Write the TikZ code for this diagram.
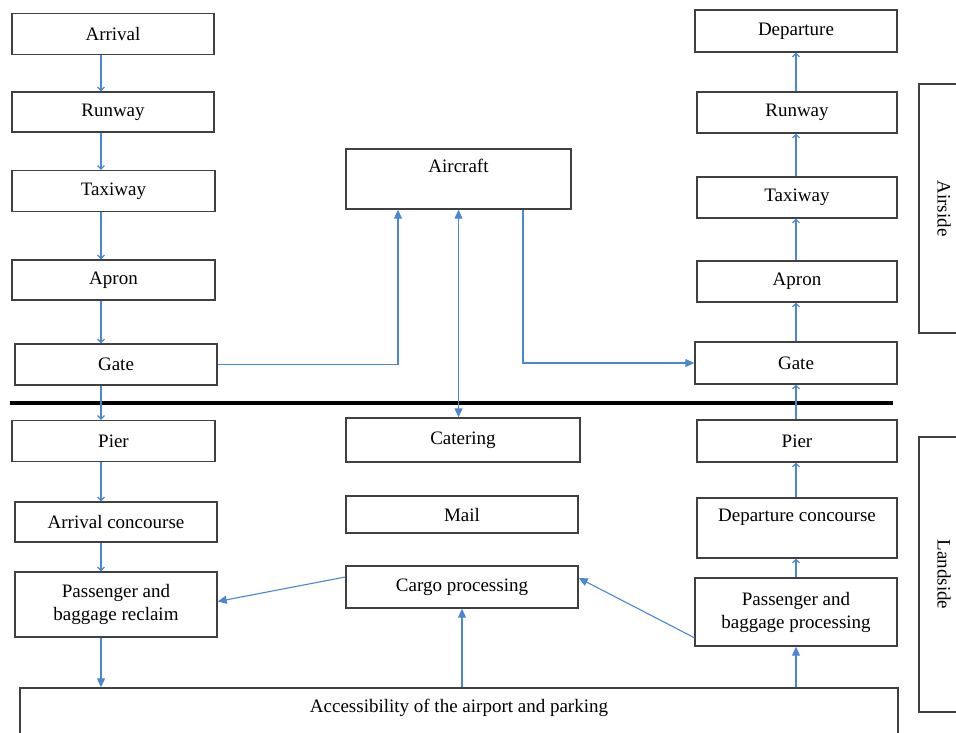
\documentclass[tikz,border=0pt]{standalone}
\usepackage{fontspec}
\setmainfont{Liberation Serif}
\usetikzlibrary{arrows.meta}
\definecolor{flowblue}{RGB}{74,134,212}
\tikzset{
	box/.style={draw=black!75, line width=1.4pt, minimum width=202, minimum height=41, inner sep=0pt, align=center, font=\fontsize{19}{23}\selectfont},
	sidebox/.style={box, rotate=-90, minimum height=50},
	flowsmall/.style={draw=flowblue, line width=1.1pt, -{Straight Barb[length=3.5pt,width=7pt]}},
	flowbig/.style={draw=flowblue, line width=1.1pt, -{Triangle[length=9pt,width=8pt]}},
}

\begin{document}
\begin{tikzpicture}[x=1pt,y=-1pt]
			%%%%% START %%%%%
			\useasboundingbox (0,0) rectangle (956,733);
			
			% arrival side
			\node[box] (arrivalL) at (113,34) {Arrival};
			\node[box, minimum height=40] (runwayL) at (113,112) {Runway};
			\node[box, minimum width=203] (taxiwayL) at (113.5,191) {Taxiway};
			\node[box, minimum width=203, minimum height=40] (apronL) at (113.5,280) {Apron};
			\node[box] (gateL) at (116,364.5) {Gate};
			\node[box, minimum width=203] (pierL) at (113.5,441) {Pier};
			\node[box, minimum height=40] (concL) at (116,522) {Arrival concourse};
			\node[box, minimum height=65] (reclaim) at (116,604.5) {Passenger and\\baggage reclaim};
			
			% middle
			\node[box, minimum width=225, minimum height=60, label={[anchor=north, yshift=-7pt, font=\fontsize{19}{23}\selectfont]north:Aircraft}] (aircraft) at (458.5,179) {};
			\node[box, minimum width=234, minimum height=44] (catering) at (463,440) {Catering};
			\node[box, minimum width=232, minimum height=37] (mail) at (462,514.5) {Mail};
			\node[box, minimum width=232, minimum height=42] (cargo) at (462,587) {Cargo processing};
			\node[box, minimum width=878, minimum height=50, label={[anchor=north, yshift=-8pt, font=\fontsize{19}{23}\selectfont]north:Accessibility of the airport and parking}] (access) at (459,713) {};
			
			% departure side
			\node[box, minimum height=42] (departure) at (796,31) {Departure};
			\node[box, minimum width=200] (runwayR) at (797,112.5) {Runway};
			\node[box, minimum width=200] (taxiwayR) at (797,197.5) {Taxiway};
			\node[box, minimum width=200] (apronR) at (797,281.5) {Apron};
			\node[box, minimum height=42] (gateR) at (796,363) {Gate};
			\node[box, minimum width=200, minimum height=42] (pierR) at (797,441) {Pier};
			\node[box, minimum width=200, minimum height=60, label={[anchor=north, yshift=-8pt, font=\fontsize{19}{23}\selectfont]north:Departure concourse}] (concR) at (797,528) {};
			\node[box, minimum height=68] (process) at (796,612) {Passenger and\\baggage processing};
			
			\node[sidebox, minimum width=249] (airside) at (944,208.5) {Airside};
			\node[sidebox, minimum width=275] (landside) at (944,574.5) {Landside};
			
			\draw[line width=4pt] (10,403) -- (893,403);
			
			% arrows
			\coordinate (lx) at (101,0);
			\coordinate (ax1) at (398,0);
			\coordinate (ax3) at (523,0);
			\coordinate (rx) at (796,0);
			\foreach \a/\b in {arrivalL/runwayL, runwayL/taxiwayL, taxiwayL/apronL, apronL/gateL, gateL/pierL, pierL/concL, concL/reclaim}
				\draw[flowsmall] (\a.south -| lx) -- (\b.north -| lx);
			\draw[flowbig] (reclaim.south -| lx) -- (access.north -| lx);
			
			\foreach \a/\b in {process/concR, concR/pierR, pierR/gateR, gateR/apronR, apronR/taxiwayR, taxiwayR/runwayR, runwayR/departure}
				\draw[flowsmall] (\a.north -| rx) -- (\b.south -| rx);
			\draw[flowbig] (access.north -| rx) -- (process.south -| rx);
			
			\draw[flowbig] (gateL.east) -| (aircraft.south -| ax1);
			\draw[flowbig, {Triangle[length=9pt,width=8pt]}-{Triangle[length=9pt,width=8pt]}] (aircraft.south) -- (aircraft.south |- catering.north);
			\draw[flowbig] (aircraft.south -| ax3) |- (gateR.west);
			\draw[flowbig] (access.north -| cargo.south) -- (cargo.south);
			\draw[flowbig] ([yshift=10pt]cargo.west) -- ([yshift=3pt]reclaim.east);
			\draw[flowbig] ([yshift=9pt]process.south west) -- ([yshift=9pt]cargo.east);
			%%%%% END %%%%%
\end{tikzpicture}
\end{document}
